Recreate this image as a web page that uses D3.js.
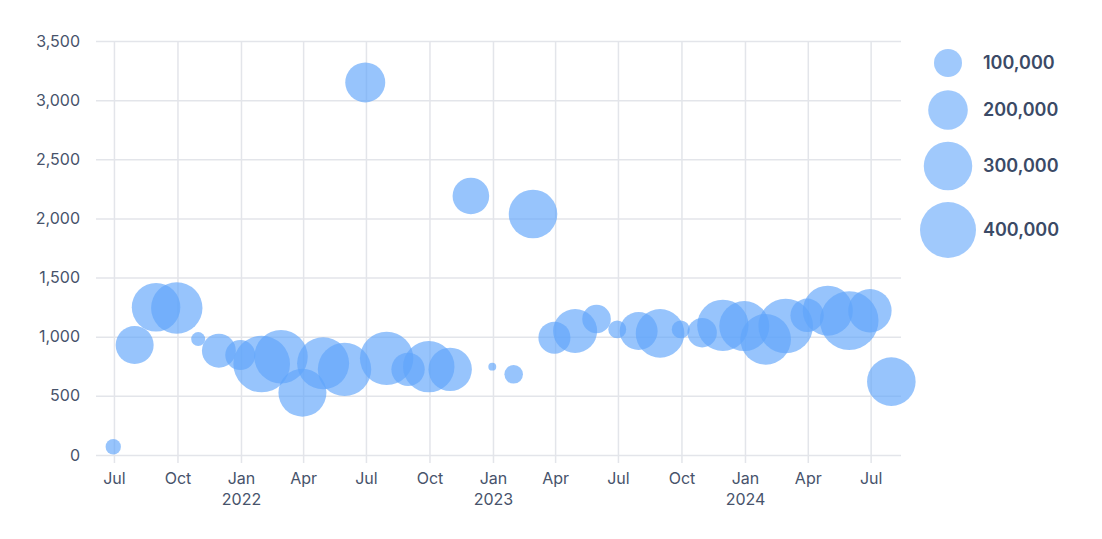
<!DOCTYPE html>
<html>
<head>
<meta charset="utf-8">
<script src="https://cdn.jsdelivr.net/npm/d3@7"></script>
<style>
  body { margin: 0; background: #fff; }
  text { font-family: Inter, "Noto Sans", sans-serif; }
</style>
</head>
<body>
<div id="chart"></div>
<script>
// month-end dates, Jun 2021 .. Jul 2024
const months = [
  "2021-06-30", "2021-07-31", "2021-08-31", "2021-09-30", "2021-10-31", "2021-11-30", "2021-12-31",
  "2022-01-31", "2022-02-28", "2022-03-31", "2022-04-30", "2022-05-31", "2022-06-30", "2022-07-31",
  "2022-08-31", "2022-09-30", "2022-10-31", "2022-11-30", "2022-12-31",
  "2023-01-31", "2023-02-28", "2023-03-31", "2023-04-30", "2023-05-31", "2023-06-30", "2023-07-31",
  "2023-08-31", "2023-09-30", "2023-10-31", "2023-11-30", "2023-12-31",
  "2024-01-31", "2024-02-29", "2024-03-31", "2024-04-30", "2024-05-31", "2024-06-30", "2024-07-31"
];
const yValues = [
  70, 930, 1249, 1243, 980, 882, 845,
  769, 831, 527, 775, 724, 3150, 817,
  724, 747, 724, 2190, 747,
  682, 2037, 992, 1048, 1150, 1062, 1048,
  1028, 1062, 1034, 1096, 1090,
  978, 1090, 1181, 1220, 1136, 1220, 620
];
const sizes = [
  30000, 184000, 301000, 337000, 25000, 147000, 115000,
  409000, 364000, 294000, 345000, 364000, 204000, 364000,
  142000, 337000, 240000, 171000, 8000,
  44000, 301000, 131000, 247000, 104000, 41000, 184000,
  301000, 41000, 110000, 337000, 319000,
  327000, 380000, 142000, 319000, 438000, 240000, 301000
];
const yTicks = [0, 500, 1000, 1500, 2000, 2500, 3000, 3500];
const legendSizes = [100000, 200000, 300000, 400000];

const width = 1102, height = 539;
const margin = { top: 41, right: 201, bottom: 84, left: 96 };

const parse = d3.timeParse("%Y-%m-%d");
const data = months.map((m, i) => ({ date: parse(m), y: yValues[i], size: sizes[i] }));

const svg = d3.select("#chart").append("svg")
  .attr("width", width)
  .attr("height", height);

const x = d3.scaleTime()
  .domain([new Date(2021, 5, 5), new Date(2024, 7, 14)])
  .range([margin.left, width - margin.right]);

const y = d3.scaleLinear()
  .domain([0, 3500])
  .range([height - margin.bottom, margin.top]);

const r = d3.scaleSqrt().domain([0, 400000]).range([0, 28]);

const gridColor = "#e3e5ea";
const textColor = "#47536b";

// horizontal grid + y labels
const yAxis = svg.append("g")
  .attr("transform", `translate(${margin.left},0)`)
  .call(d3.axisLeft(y).tickValues(yTicks).tickFormat(d3.format(",")).tickSize(-(width - margin.left - margin.right)).tickPadding(16));
yAxis.select(".domain").remove();
yAxis.selectAll("line").attr("stroke", gridColor).attr("stroke-width", 1.5);
yAxis.selectAll("text").attr("fill", textColor).style("font-size", "16px");

// vertical grid + x labels
const xTicks = d3.timeMonth.every(3).range(new Date(2021, 6, 1), new Date(2024, 7, 1));
const xAxis = svg.append("g")
  .attr("transform", `translate(0,${height - margin.bottom + 8})`)
  .call(d3.axisBottom(x).tickValues(xTicks).tickFormat(d3.timeFormat("%b")).tickSize(-(height - margin.top - margin.bottom + 8)).tickPadding(10));
xAxis.select(".domain").remove();
xAxis.selectAll("line").attr("stroke", gridColor).attr("stroke-width", 1.5);
xAxis.selectAll("text").attr("fill", textColor).style("font-size", "16px");
xAxis.selectAll(".tick")
  .filter(d => d.getMonth() === 0)
  .append("text")
  .attr("y", 31)
  .attr("dy", "0.71em")
  .attr("text-anchor", "middle")
  .attr("fill", textColor)
  .style("font-size", "16px")
  .text(d => d.getFullYear());

// bubbles
svg.append("g")
  .selectAll("circle")
  .data(data)
  .join("circle")
  .attr("cx", d => x(d.date))
  .attr("cy", d => y(d.y))
  .attr("r", d => r(d.size))
  .attr("fill", "#60a5fa")
  .attr("fill-opacity", 0.65);

// size legend
const legendY = [63, 110, 166, 230];
const legend = svg.append("g");
legend.selectAll("circle")
  .data(legendSizes)
  .join("circle")
  .attr("cx", 948)
  .attr("cy", (d, i) => legendY[i])
  .attr("r", d => r(d))
  .attr("fill", "#60a5fa")
  .attr("fill-opacity", 0.6);
legend.selectAll("text")
  .data(legendSizes)
  .join("text")
  .attr("x", 983)
  .attr("y", (d, i) => legendY[i])
  .attr("dy", "0.35em")
  .attr("fill", "#3b4a66")
  .style("font-size", "18px")
  .style("font-weight", 600)
  .text(d => d3.format(",")(d));
</script>
</body>
</html>
